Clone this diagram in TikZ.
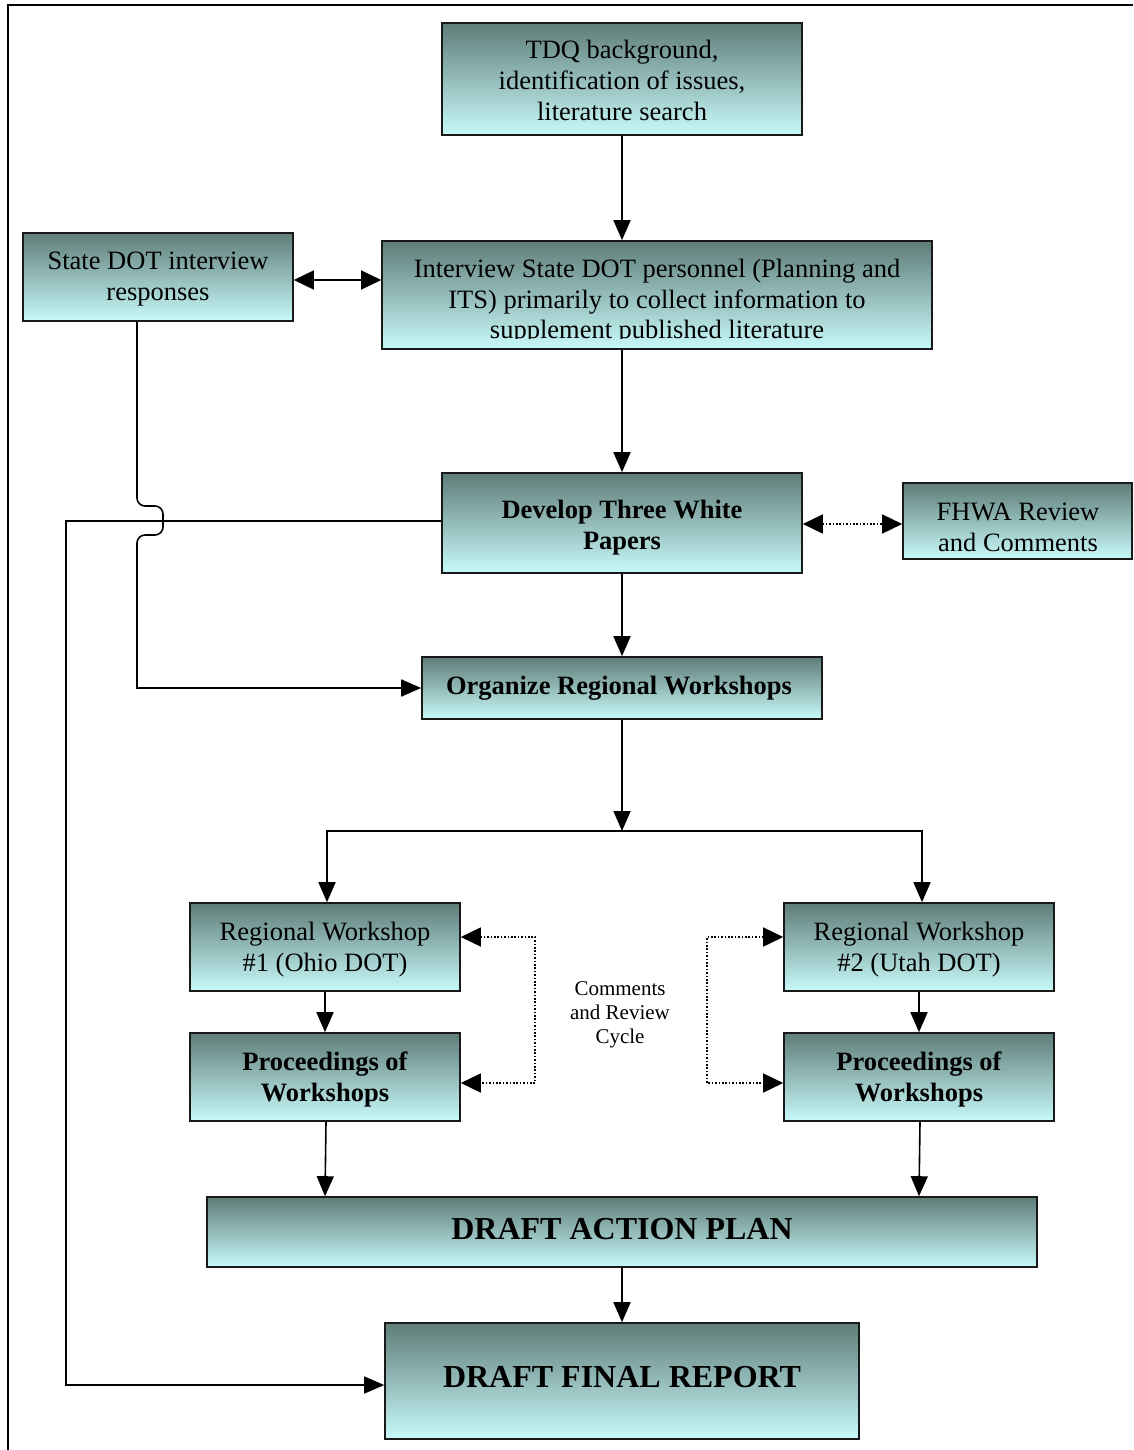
\documentclass[tikz,border=0pt]{standalone}
\usepackage{fontspec}
\setmainfont{Liberation Serif}
\usetikzlibrary{arrows.meta}
\definecolor{gtop}{RGB}{95,125,121}
\definecolor{gbot}{RGB}{200,250,250}
\definecolor{edge}{RGB}{25,25,25}
\tikzset{
  box/.style={draw=edge, line width=1.6pt, top color=gtop, bottom color=gbot, inner sep=0pt},
  txt/.style={align=center, inner sep=0pt, font=\fontsize{26.5}{31}\selectfont},
  boldtxt/.style={txt, font=\fontsize{26.5}{31}\selectfont\bfseries},
  bigtxt/.style={txt, font=\fontsize{32}{36}\selectfont\bfseries},
  conn/.style={line width=1.6pt, draw=black},
  arr/.style={conn, -{Triangle[length=20pt,width=17pt]}},
  darr/.style={conn, {Triangle[length=20pt,width=19pt]}-{Triangle[length=20pt,width=19pt]}},
  dotarr/.style={line width=1.5pt, dash pattern=on 1.6pt off 1.8pt, {Triangle[length=20pt,width=19pt]}-{Triangle[length=20pt,width=19pt]}},
  note/.style={align=center, font=\fontsize{21}{24}\selectfont, inner sep=0pt}
}
\begin{document}
\begin{tikzpicture}[x=1pt,y=-1pt]
\useasboundingbox (0,0) rectangle (1133,1450);
% outer frame
\draw[line width=2pt] (8,1450) -- (8,5) -- (1133,5);

% boxes
\node[box, minimum width=360pt, minimum height=112pt] (tdq) at (622,79) {};
\node[txt] (tdqT) at (622,80.5) {TDQ background,\\identification of issues,\\literature search};

\node[box, minimum width=270pt, minimum height=88pt] (sdot) at (158,277) {};
\node[txt] (sdotT) at (158,279.5) {State DOT interview\\responses};

\node[box, minimum width=550pt, minimum height=108pt] (int) at (657,295) {};
\begin{scope}
  \clip (382,241) rectangle (932,338);
  \node[txt, font=\fontsize{26.5}{30.5}\selectfont] (intT) at (657,302)
    {Interview State DOT personnel (Planning and\\ITS) primarily to collect information to\\supplement published literature};
\end{scope}

\node[box, minimum width=360pt, minimum height=100pt] (dev) at (622,523) {};
\node[boldtxt] (devT) at (622,527.5) {Develop Three White\\Papers};

\node[box, minimum width=229pt, minimum height=76pt] (fhwa) at (1017.5,521) {};
\node[txt] (fhwaT) at (1018,527) {FHWA Review\\and Comments};

\node[box, minimum width=400pt, minimum height=62pt] (org) at (622,688) {};
\node[boldtxt] (orgT) at (619,688) {Organize Regional Workshops};

\node[box, minimum width=270pt, minimum height=88pt] (rw1) at (325,947) {};
\node[txt] (rw1T) at (325,949.5) {Regional Workshop\\\#1 (Ohio DOT)};

\node[box, minimum width=270pt, minimum height=88pt] (rw2) at (919,947) {};
\node[txt] (rw2T) at (919,949.5) {Regional Workshop\\\#2 (Utah DOT)};

\node[box, minimum width=270pt, minimum height=88pt] (p1) at (325,1077) {};
\node[boldtxt] (p1T) at (325,1079) {Proceedings of\\Workshops};

\node[box, minimum width=270pt, minimum height=88pt] (p2) at (919,1077) {};
\node[boldtxt] (p2T) at (919,1079) {Proceedings of\\Workshops};

\node[box, minimum width=830pt, minimum height=70pt] (dap) at (622,1232) {};
\node[bigtxt] (dapT) at (622,1229) {DRAFT ACTION PLAN};

\node[box, minimum width=474pt, minimum height=116pt] (dfr) at (622,1381) {};
\node[bigtxt] (dfrT) at (622,1377) {DRAFT FINAL REPORT};

\node[note] (cmt) at (620,1015) {Comments\\and Review\\Cycle};

% helper coordinates
\coordinate (sx) at (137,0);
\coordinate (lx) at (66,0);
\coordinate (y280) at (0,280);
\coordinate (split) at (622,831);
\coordinate (dl) at (535,1010);
\coordinate (dr) at (707,1010);

% connectors
\draw[arr] (tdq.south) -- (int.north -| tdq.south);
\draw[darr] (sdot.east |- y280) -- (int.west |- y280);
\draw[arr] (int.south -| dev.north) -- (dev.north);
\draw[dotarr] ([yshift=-1pt]dev.east) -- ([yshift=-1pt]fhwa.west |- dev.east);
\draw[arr] (dev.south) -- (org.north);
\draw[arr, rounded corners=8pt] (sdot.south -| sx) -- (137,506) -- (163,506) -- (163,535) -- (137,535) -- (137,560)
  [sharp corners] -- (137,688) -- (org.west);
\draw[arr] ([yshift=2pt]dev.west) -| (lx |- 0,1385) -- ([yshift=-4pt]dfr.west);
\draw[arr] (org.south) -- (split);
\draw[arr] (split) -| ([xshift=2pt]rw1.north);
\draw[arr] (split) -| ([xshift=3pt]rw2.north);
\draw[arr] (rw1.south) -- (p1.north);
\draw[arr] (rw2.south) -- (p2.north);
\draw[arr] ([xshift=1pt]p1.south) -- (p1.south |- dap.north);
\draw[arr] ([xshift=1pt]p2.south) -- (p2.south |- dap.north);
\draw[arr] (dap.south) -- (dfr.north);
\draw[dotarr] ([yshift=10pt]rw1.east) -| (dl) |- ([yshift=-6pt]p1.east);
\draw[dotarr] ([yshift=10pt]rw2.west) -| (dr) |- ([yshift=-6pt]p2.west);
\end{tikzpicture}
\end{document}
